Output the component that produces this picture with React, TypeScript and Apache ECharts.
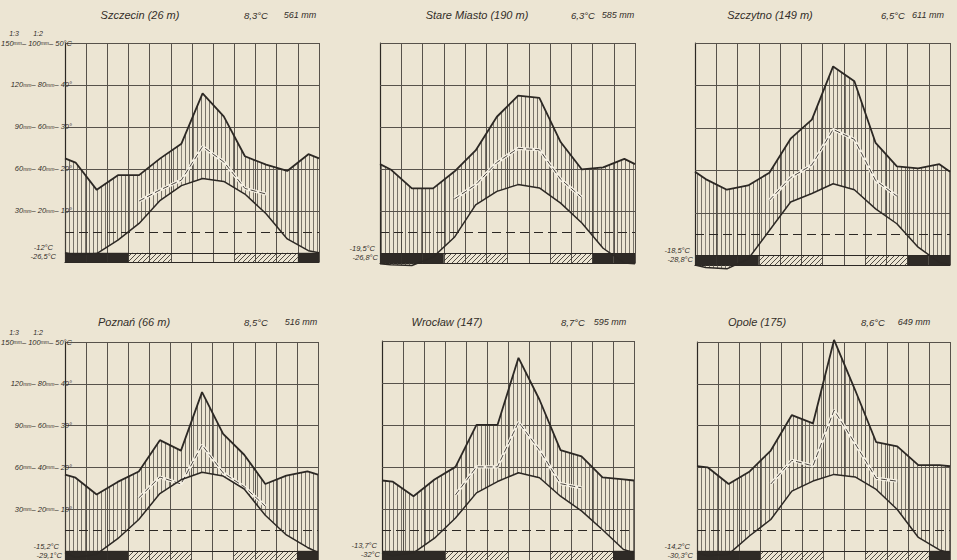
import React, { useEffect, useRef } from 'react';
import * as echarts from 'echarts';

// ---------- DATA ----------
const stationNames = ['Szczecin (26 m)', 'Stare Miasto (190 m)', 'Szczytno (149 m)', 'Poznań (66 m)', 'Wrocław (147)', 'Opole (175)'];
const meanTempLabels = ['8,3°C', '6,3°C', '6,5°C', '8,5°C', '8,7°C', '8,6°C'];
const annualPrecipLabels = ['561 mm', '585 mm', '611 mm', '516 mm', '595 mm', '649 mm'];
const meanMinLabels = ['-12°C', '-19,5°C', '-18,5°C', '-15,2°C', '-13,7°C', '-14,2°C'];
const absMinLabels = ['-26,5°C', '-26,8°C', '-28,8°C', '-29,1°C', '-32°C', '-30,3°C'];

// monthly mean temperature (°C), Jan..Dec
const tempSzczecin = [-0.5, -0.2, 3.0, 7.0, 12.5, 16.0, 17.7, 17.0, 14.0, 9.3, 3.3, 0.5];
const tempStareMiasto = [-2.6, -2.8, -0.8, 3.9, 11.6, 14.8, 16.4, 15.6, 12.0, 7.3, 1.3, -2.2];
const tempSzczytno = [-2.8, -3.1, -0.8, 5.9, 12.6, 14.6, 16.9, 15.5, 11.0, 7.5, 2.0, -1.6];
const tempPoznan = [-1.6, -0.8, 2.9, 7.5, 13.7, 17.0, 18.8, 17.9, 14.8, 8.5, 3.8, 0.8];
const tempWroclaw = [-1.2, -0.5, 3.0, 7.8, 13.8, 16.5, 18.6, 17.4, 13.0, 9.5, 5.0, 0.3];
const tempOpole = [-1.2, -0.8, 3.6, 7.5, 14.3, 16.7, 18.3, 17.7, 14.7, 9.9, 3.2, 0.2];

// monthly precipitation (mm), Jan..Dec
const precSzczecin = [43, 30, 37, 37, 45, 52, 76, 65, 46, 42, 39, 47];
const precStareMiasto = [40, 31, 31, 39, 49, 65, 75, 74, 53, 40, 41, 45];
const precSzczytno = [36, 31, 33, 39, 55, 64, 89, 82, 53, 42, 41, 43];
const precPoznan = [35, 27, 33, 38, 53, 48, 76, 56, 46, 32, 36, 38];
const precWroclaw = [33, 26, 34, 40, 60, 60, 92, 72, 48, 45, 35, 34];
const precOpole = [40, 32, 38, 48, 65, 61, 101, 77, 52, 50, 41, 41];

// frost bar: 2 = black (mean daily min < 0), 1 = hatched (absolute min < 0), 0 = none
const frostSzczecin = [2, 2, 2, 1, 1, 0, 0, 0, 1, 1, 1, 2];
const frostStareMiasto = [2, 2, 2, 1, 1, 1, 0, 0, 1, 1, 2, 2];
const frostSzczytno = [2, 2, 2, 1, 1, 1, 0, 0, 1, 1, 2, 2];
const frostPoznan = [2, 2, 2, 1, 1, 1, 0, 0, 1, 1, 1, 2];
const frostWroclaw = [2, 2, 2, 1, 1, 1, 0, 0, 1, 1, 1, 2];
const frostOpole = [2, 2, 2, 1, 1, 1, 0, 0, 1, 1, 1, 2];

// axis tick labels
const gridLevels = [10, 20, 30, 40, 50];
const scale13Labels = ['30', '60', '90', '120', '150'];
const scale12Labels = ['20', '40', '60', '80', '100'];
const tempTickLabels = ['10°', '20°', '30°', '40°', '50°C'];
const scaleHeads = ['1:3', '1:2'];

const temps = [tempSzczecin, tempStareMiasto, tempSzczytno, tempPoznan, tempWroclaw, tempOpole];
const precs = [precSzczecin, precStareMiasto, precSzczytno, precPoznan, precWroclaw, precOpole];
const frosts = [frostSzczecin, frostStareMiasto, frostSzczytno, frostPoznan, frostWroclaw, frostOpole];

// ---------- LAYOUT ----------
const boxes = [
  { left: 65, top: 43, width: 254, height: 219 },
  { left: 380, top: 43, width: 255, height: 220 },
  { left: 695, top: 43, width: 255, height: 222 },
  { left: 65, top: 342, width: 253, height: 219 },
  { left: 382, top: 341, width: 252, height: 219 },
  { left: 697, top: 342, width: 253, height: 219 },
];
const titlePos = [
  [140, 15, 256, 300], [477, 15, 583, 618], [770, 15, 893, 928],
  [134, 322, 256, 301], [447, 322, 573, 610], [757, 322, 873, 914],
];
const minLabelRight = [56, 378, 693, 62, 380, 693];
const labeledPanels = [0, 3];
const BAR_BOTTOM = -2.2;

const LINE = '#2c2824';
const GRIDC = '#57524b';
const TEXTC = '#332e29';
const BG = '#ece5d3';
const FONT = '"Liberation Sans", "DejaVu Sans", sans-serif';

function withEdges(arr: number[]) {
  const e = (arr[0] + arr[11]) / 2;
  return [e, ...arr, e];
}
const edgeX = [0, ...Array.from({ length: 12 }, (_, k) => k + 0.5), 12];

function makeVPattern() {
  const c = document.createElement('canvas');
  c.width = 4; c.height = 4;
  const ctx = c.getContext('2d')!;
  ctx.fillStyle = 'rgba(75,70,64,0.72)';
  ctx.fillRect(1, 0, 1, 4);
  return { image: c.toDataURL(), repeat: 'repeat', imageWidth: 4, imageHeight: 4 };
}
function makeDPattern() {
  const c = document.createElement('canvas');
  c.width = 5; c.height = 5;
  const ctx = c.getContext('2d')!;
  ctx.strokeStyle = 'rgba(55,50,45,0.85)';
  ctx.lineWidth = 1;
  ctx.beginPath();
  ctx.moveTo(0, 5); ctx.lineTo(5, 0);
  ctx.moveTo(-1, 1); ctx.lineTo(1, -1);
  ctx.moveTo(4, 6); ctx.lineTo(6, 4);
  ctx.stroke();
  return { image: c.toDataURL(), repeat: 'repeat', imageWidth: 5, imageHeight: 5 };
}

const textStyle = (text: string, size: number, align: string) => ({
  text, font: `italic ${size}px ${FONT}`, fill: TEXTC,
  textAlign: align, align, textVerticalAlign: 'middle', verticalAlign: 'middle',
});

function buildOption() {
  const vPat = makeVPattern();
  const dPat = makeDPattern();
  const grid: any[] = [];
  const xAxis: any[] = [];
  const yAxis: any[] = [];
  const series: any[] = [];
  const graphic: any[] = [];

  boxes.forEach((b, i) => {
    grid.push({ left: b.left, top: b.top, width: b.width, height: b.height });
    xAxis.push({
      gridIndex: i, type: 'value', min: 0, max: 12, interval: 1,
      axisLabel: { show: false }, axisTick: { show: false },
      axisLine: { show: true, onZero: false, lineStyle: { color: LINE, width: 1.2 } },
      splitLine: { show: true, lineStyle: { color: GRIDC, width: 1 } },
    });
    yAxis.push({
      gridIndex: i, type: 'value', min: BAR_BOTTOM, max: 50,
      axisLabel: { show: false }, axisTick: { show: false },
      axisLine: { show: true, lineStyle: { color: LINE, width: 1.2 } },
      splitLine: { show: false },
    });

    const tE = withEdges(temps[i]);
    const pE = withEdges(precs[i]).map((v) => v / 2);
    const showLab = labeledPanels.includes(i);

    // grid lines (horizontal) with scale labels
    series.push({
      type: 'line', xAxisIndex: i, yAxisIndex: i,
      data: [], symbol: 'none', silent: true,
      markLine: {
        silent: true, symbol: 'none', animation: false,
        data: [
          ...gridLevels.map((lv, k) => ({
            yAxis: lv,
            lineStyle: { color: GRIDC, width: 1, type: 'solid' },
            label: showLab
              ? {
                  show: true, position: 'start', distance: -7,
                  formatter: `{n|${scale13Labels[k]}}{u|mm}{n|– ${scale12Labels[k]}}{u|mm}{n|– ${tempTickLabels[k]}}`,
                  rich: {
                    n: { fontSize: 7.5, fontStyle: 'italic', fontFamily: FONT, color: TEXTC },
                    u: { fontSize: 5, fontStyle: 'italic', fontFamily: FONT, color: TEXTC },
                  },
                }
              : { show: false },
          })),
          { yAxis: 5, lineStyle: { color: LINE, width: 1.1, type: [9, 5] }, label: { show: false } },
          { yAxis: 0, lineStyle: { color: LINE, width: 1.2, type: 'solid' }, label: { show: false } },
        ],
      },
    });
    // hatched humid area between temperature and precipitation (1:2) curves
    series.push({
      type: 'custom', xAxisIndex: i, yAxisIndex: i, silent: true, z: 2, clip: false,
      data: edgeX.slice(0, -1).map((x, k) => [x, tE[k], pE[k], edgeX[k + 1], tE[k + 1], pE[k + 1]]),
      encode: { x: 0, y: 2 },
      renderItem: (_p: any, api: any) => {
        const a = api.coord([api.value(0), api.value(2)]);
        const bq = api.coord([api.value(3), api.value(5)]);
        const c = api.coord([api.value(3), api.value(4)]);
        const d = api.coord([api.value(0), api.value(1)]);
        return { type: 'polygon', shape: { points: [a, bq, c, d] }, style: { fill: vPat, stroke: null } };
      },
    });
    // precipitation 1:3 (dashed) Apr..Oct
    const dashed = precs[i].slice(3, 10).map((v, k) => [k + 3.5, v / 3]);
    series.push({
      type: 'line', xAxisIndex: i, yAxisIndex: i, data: dashed, symbol: 'none', silent: true,
      lineStyle: { color: '#f6f1e4', width: 3.2 }, z: 5,
    });
    series.push({
      type: 'line', xAxisIndex: i, yAxisIndex: i, data: dashed, symbol: 'none', silent: true,
      lineStyle: { color: '#4a4540', width: 1, type: [6, 3] }, z: 6,
    });
    // frost bar
    series.push({
      type: 'custom', xAxisIndex: i, yAxisIndex: i, silent: true, z: 4, clip: false,
      data: frosts[i].map((c, m) => [m, c]),
      encode: { x: 0 },
      renderItem: (_p: any, api: any) => {
        const m = api.value(0);
        const code = api.value(1);
        if (!code) return { type: 'group', children: [] };
        const p0 = api.coord([m, 0]);
        const p1 = api.coord([m + 1, BAR_BOTTOM]);
        return {
          type: 'rect',
          shape: { x: p0[0], y: p0[1], width: p1[0] - p0[0], height: p1[1] - p0[1] },
          style: { fill: code === 2 ? '#2e2a26' : dPat, stroke: null },
        };
      },
    });
    // precipitation line (1:2)
    series.push({
      type: 'line', xAxisIndex: i, yAxisIndex: i, data: edgeX.map((x, k) => [x, pE[k]]),
      symbol: 'none', silent: true, clip: false, lineStyle: { color: LINE, width: 1.8 }, z: 7,
    });
    // temperature line
    series.push({
      type: 'line', xAxisIndex: i, yAxisIndex: i, data: edgeX.map((x, k) => [x, tE[k]]),
      symbol: 'none', silent: true, clip: false, lineStyle: { color: LINE, width: 1.5 }, z: 8,
    });

    // texts
    const tp = titlePos[i];
    graphic.push({ type: 'text', x: tp[0], y: tp[1], silent: true, style: textStyle(stationNames[i], 11, 'center') });
    graphic.push({ type: 'text', x: tp[2], y: tp[1], silent: true, style: textStyle(meanTempLabels[i], 9.5, 'center') });
    graphic.push({ type: 'text', x: tp[3], y: tp[1], silent: true, style: textStyle(annualPrecipLabels[i], 9, 'center') });
    const y0 = b.top + (50 / (50 - BAR_BOTTOM)) * b.height;
    graphic.push({ type: 'text', x: minLabelRight[i] - 3, y: y0 - 5, silent: true, style: textStyle(meanMinLabels[i], 7.5, 'right') });
    graphic.push({ type: 'text', x: minLabelRight[i], y: y0 + 4, silent: true, style: textStyle(absMinLabels[i], 7.5, 'right') });
    if (showLab) {
      graphic.push({ type: 'text', x: 14, y: b.top - 10, silent: true, style: textStyle(scaleHeads[0], 7, 'center') });
      graphic.push({ type: 'text', x: 38, y: b.top - 10, silent: true, style: textStyle(scaleHeads[1], 7, 'center') });
    }
  });

  return {
    animation: false,
    backgroundColor: BG,
    grid, xAxis, yAxis, series, graphic,
  };
}

export default function App() {
  const ref = useRef<HTMLDivElement>(null);
  useEffect(() => {
    document.body.style.margin = '0';
    document.body.style.background = BG;
    const chart = echarts.init(ref.current!, undefined, { renderer: 'svg' });
    chart.setOption(buildOption() as any);
    return () => chart.dispose();
  }, []);
  return <div ref={ref} style={{ width: 957, height: 560 }} />;
}
